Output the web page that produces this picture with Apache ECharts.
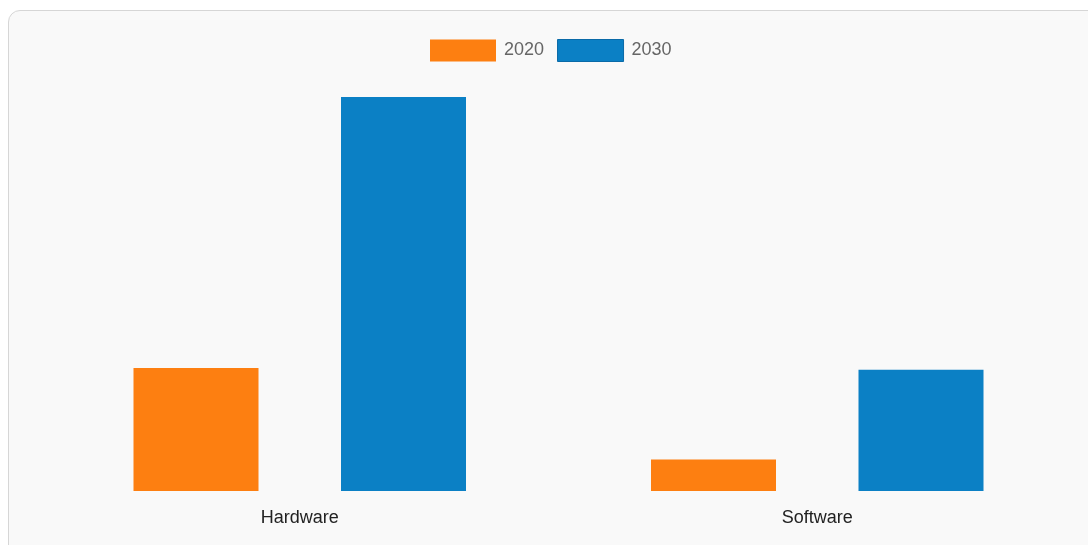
<!DOCTYPE html>
<html>
<head>
<meta charset="utf-8">
<script src="https://cdn.jsdelivr.net/npm/echarts@6/dist/echarts.min.js"></script>
<style>
html,body{margin:0;padding:0;background:#fff;width:1088px;height:545px;overflow:hidden;}
#box{position:absolute;left:8px;top:10px;width:1092px;height:560px;border:1.5px solid #d6d6d6;border-radius:12px;background:#f9f9f9;box-sizing:border-box;}
#chart{position:absolute;left:0;top:0;width:1088px;height:545px;}
</style>
</head>
<body>
<div id="box"></div>
<div id="chart"></div>
<script>
const categories = ['Hardware', 'Software'];
const seriesNames = ['2020', '2030'];
const values2020 = [12.5, 3.2];
const values2030 = [40, 12.3];

const chart = echarts.init(document.getElementById('chart'), null, {renderer: 'canvas'});
chart.setOption({
  backgroundColor: 'transparent',
  animation: false,
  legend: {
    top: 34,
    left: 425,
    itemWidth: 66,
    itemHeight: 22,
    itemGap: 13,
    icon: 'rect',
    textStyle: {fontFamily: 'Liberation Sans, Arial, sans-serif', fontSize: 18, color: '#666', padding: [0, 0, 0, 3]},
    data: [
      {name: seriesNames[0], itemStyle: {color: '#fd7f11', borderColor: '#fd7f11', borderWidth: 0}},
      {name: seriesNames[1], itemStyle: {color: '#0b80c5', borderColor: '#0a6aa8', borderWidth: 1}}
    ]
  },
  grid: {left: 41, right: 12, top: 97, bottom: 54, containLabel: false},
  xAxis: {
    type: 'category',
    data: categories,
    axisLine: {show: false},
    axisTick: {show: false},
    axisLabel: {margin: 18, fontFamily: 'Liberation Sans, Arial, sans-serif', fontSize: 18, color: '#222'}
  },
  yAxis: {
    type: 'value',
    min: 0,
    max: 40,
    show: false,
    splitLine: {show: false}
  },
  series: [
    {name: seriesNames[0], type: 'bar', data: values2020, barWidth: 125, barGap: '66%', itemStyle: {color: '#fd7f11'}},
    {name: seriesNames[1], type: 'bar', data: values2030, barWidth: 125, itemStyle: {color: '#0b80c5'}}
  ]
});
</script>
</body>
</html>
